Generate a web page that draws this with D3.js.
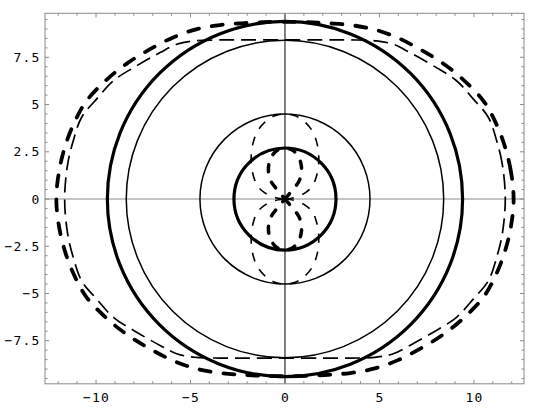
<!DOCTYPE html>
<html>
<head>
<meta charset="utf-8">
<script src="https://cdn.jsdelivr.net/npm/d3@7"></script>
<style>
	body { margin: 0; background: #fff; }
	svg { display: block; }
</style>
</head>
<body>
<svg id="chart" width="545" height="416"></svg>
<script>
// Tick labels
const xTicks = [-10, -5, 0, 5, 10];
const yTicks = [-7.5, -5, -2.5, 0, 2.5, 5, 7.5];

// Solid circles (radius), outer to inner
const circleRadii = [9.4, 8.4, 4.5, 2.7];

// Dashed curves, first quadrant points (mirrored on both axes)
const outerThick = [[12.1, 0], [11.95, 1.5], [11.6, 2.9], [11.1, 4.15], [10.5, 5.2], [9.4, 6.35],
	[8.3, 7.22], [7.14, 7.93], [5.95, 8.54], [4.7, 8.98], [3.44, 9.21], [2.3, 9.3], [1.2, 9.36], [0, 9.38]];
const outerThin = [[11.66, 0], [11.5, 1.85], [11.2, 3.1], [10.76, 4.33], [9.96, 5.3], [9.08, 6.26],
	[7.85, 7.05], [6.61, 7.75], [5.73, 8.19], [4.85, 8.37], [3.44, 8.42], [2.0, 8.42], [0, 8.42]];
const innerThin = [[0, 0], [0.35, 0.04], [0.75, 0.16], [1.12, 0.36], [1.45, 0.68], [1.65, 1.15],
	[1.77, 1.75], [1.78, 2.4], [1.68, 3.0], [1.45, 3.6], [0.97, 4.15], [0.5, 4.42], [0, 4.5]];
const innerThick = [[0, 0], [0.22, 0.26], [0.47, 0.56], [0.72, 0.9], [0.85, 1.28], [0.87, 1.72],
	[0.74, 2.18], [0.45, 2.55], [0, 2.7]];

// Layout
let margin = {top: 13.3, right: 21, bottom: 32.2, left: 45},
	width = 545, height = 416,
	iwidth = width - margin.left - margin.right,
	iheight = height - margin.top - margin.bottom;

let svg = d3.select("#chart");

let x = d3.scaleLinear().domain([-12.7, 12.65]).range([margin.left, margin.left + iwidth]);
let y = d3.scaleLinear().domain([-9.78, 9.83]).range([margin.top + iheight, margin.top]);

svg.append("defs").append("clipPath").attr("id", "plotClip")
	.append("rect")
	.attr("x", margin.left).attr("y", margin.top)
	.attr("width", iwidth).attr("height", iheight);

let plot = svg.append("g").attr("clip-path", "url(#plotClip)");

// Axes through the origin
plot.append("line")
	.attr("x1", x.range()[0]).attr("x2", x.range()[1])
	.attr("y1", y(0)).attr("y2", y(0))
	.attr("stroke", "#c4c4c4").attr("stroke-width", 2);
plot.append("line")
	.attr("x1", x(0)).attr("x2", x(0))
	.attr("y1", y.range()[0]).attr("y2", y.range()[1])
	.attr("stroke", "#000").attr("stroke-width", 1);

// Solid circles
let circleWidths = [3.2, 1.5, 1.5, 3.2];
plot.selectAll(".circ")
	.data(circleRadii)
	.enter()
	.append("ellipse")
	.attr("class", "circ")
	.attr("cx", x(0)).attr("cy", y(0))
	.attr("rx", (r) => x(r) - x(0))
	.attr("ry", (r) => y(0) - y(r))
	.attr("fill", "none")
	.attr("stroke", "#000")
	.attr("stroke-width", (r, i) => circleWidths[i]);

// Build closed loops and lobes from quadrant points
function fullLoop(q) {
	let q2 = q.slice().reverse().slice(1).map(([a, b]) => [-a, b]);
	let q3 = q.slice(1).map(([a, b]) => [-a, -b]);
	let q4 = q.slice().reverse().slice(1, -1).map(([a, b]) => [a, -b]);
	return q.concat(q2, q3, q4);
}
function lobes(q) {
	let upper = q.concat(q.slice(0, -1).reverse().map(([a, b]) => [-a, b]));
	let lower = upper.map(([a, b]) => [a, -b]);
	return [upper, lower];
}

let closedLine = d3.line().x((d) => x(d[0])).y((d) => y(d[1])).curve(d3.curveCatmullRomClosed);
let openLine = d3.line().x((d) => x(d[0])).y((d) => y(d[1])).curve(d3.curveCatmullRom);

plot.append("path")
	.attr("d", closedLine(fullLoop(outerThick)))
	.attr("fill", "none").attr("stroke", "#000")
	.attr("stroke-width", 3.8).attr("stroke-linecap", "round")
	.attr("stroke-dasharray", "11,13");
plot.append("path")
	.attr("d", closedLine(fullLoop(outerThin)))
	.attr("fill", "none").attr("stroke", "#000")
	.attr("stroke-width", 1.7)
	.attr("stroke-dasharray", "15,7");

lobes(innerThin).forEach((pts) => {
	plot.append("path")
		.attr("d", openLine(pts))
		.attr("fill", "none").attr("stroke", "#000")
		.attr("stroke-width", 1.6)
		.attr("stroke-dasharray", "9,9");
});
lobes(innerThick).forEach((pts) => {
	plot.append("path")
		.attr("d", openLine(pts))
		.attr("fill", "none").attr("stroke", "#000")
		.attr("stroke-width", 3.5).attr("stroke-linecap", "round")
		.attr("stroke-dasharray", "7,11");
});

// Frame
svg.append("rect")
	.attr("x", margin.left).attr("y", margin.top)
	.attr("width", iwidth).attr("height", iheight)
	.attr("fill", "none").attr("stroke", "#8a8a8a").attr("stroke-width", 1);

// Frame ticks, pointing inward on all four sides
let xMinor = d3.range(-12, 13, 1);
let yMinor = d3.range(-9.5, 9.6, 0.5);
let tickColor = "#8a8a8a";
let ticks = svg.append("g").attr("stroke", tickColor).attr("stroke-width", 1);
xMinor.forEach((v) => {
	let len = (v % 5 === 0) ? 4 : 2.5;
	ticks.append("line").attr("x1", x(v)).attr("x2", x(v))
		.attr("y1", y.range()[0]).attr("y2", y.range()[0] - len);
	ticks.append("line").attr("x1", x(v)).attr("x2", x(v))
		.attr("y1", y.range()[1]).attr("y2", y.range()[1] + len);
});
yMinor.forEach((v) => {
	let len = (Math.abs(v % 2.5) < 1e-9) ? 4 : 2.5;
	ticks.append("line").attr("y1", y(v)).attr("y2", y(v))
		.attr("x1", x.range()[0]).attr("x2", x.range()[0] + len);
	ticks.append("line").attr("y1", y(v)).attr("y2", y(v))
		.attr("x1", x.range()[1]).attr("x2", x.range()[1] - len);
});

// Tick labels
let fmt = (v) => String(v).replace("-", "\u2212");
svg.selectAll(".xlab")
	.data(xTicks)
	.enter()
	.append("text")
	.attr("class", "xlab")
	.attr("x", (v) => x(v) + 0.6)
	.attr("y", 401.5)
	.style("text-anchor", "middle")
	.style("font-family", "DejaVu Sans Mono, monospace")
	.style("font-size", "13px")
	.style("letter-spacing", "1.2px")
	.text(fmt);
svg.selectAll(".ylab")
	.data(yTicks)
	.enter()
	.append("text")
	.attr("class", "ylab")
	.attr("x", 40.5)
	.attr("y", (v) => y(v))
	.attr("dy", "0.36em")
	.style("text-anchor", "end")
	.style("font-family", "DejaVu Sans Mono, monospace")
	.style("font-size", "13px")
	.style("letter-spacing", "1.2px")
	.text(fmt);
</script>
</body>
</html>
